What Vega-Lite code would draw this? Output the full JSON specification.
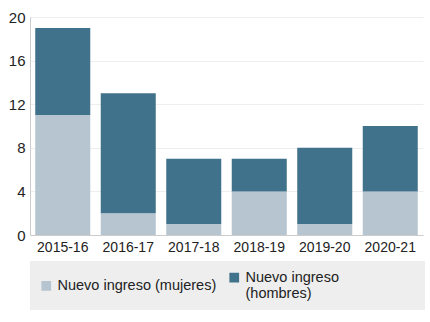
{
  "$schema": "https://vega.github.io/schema/vega-lite/v6.json",
  "autosize": {"type": "none"},
  "width": 393,
  "height": 218,
  "padding": {"left": 30, "top": 17, "right": 7, "bottom": 87},
  "background": "white",
  "data": {"values": [
    {"curso": "2015-16", "serie": "Nuevo ingreso (mujeres)", "orden": 1, "valor": 11},
    {"curso": "2015-16", "serie": "Nuevo ingreso (hombres)", "orden": 2, "valor": 8},
    {"curso": "2016-17", "serie": "Nuevo ingreso (mujeres)", "orden": 1, "valor": 2},
    {"curso": "2016-17", "serie": "Nuevo ingreso (hombres)", "orden": 2, "valor": 11},
    {"curso": "2017-18", "serie": "Nuevo ingreso (mujeres)", "orden": 1, "valor": 1},
    {"curso": "2017-18", "serie": "Nuevo ingreso (hombres)", "orden": 2, "valor": 6},
    {"curso": "2018-19", "serie": "Nuevo ingreso (mujeres)", "orden": 1, "valor": 4},
    {"curso": "2018-19", "serie": "Nuevo ingreso (hombres)", "orden": 2, "valor": 3},
    {"curso": "2019-20", "serie": "Nuevo ingreso (mujeres)", "orden": 1, "valor": 1},
    {"curso": "2019-20", "serie": "Nuevo ingreso (hombres)", "orden": 2, "valor": 7},
    {"curso": "2020-21", "serie": "Nuevo ingreso (mujeres)", "orden": 1, "valor": 4},
    {"curso": "2020-21", "serie": "Nuevo ingreso (hombres)", "orden": 2, "valor": 6}
  ]},
  "mark": {"type": "bar"},
  "encoding": {
    "x": {
      "field": "curso", "type": "nominal",
      "scale": {"paddingInner": 0.16, "paddingOuter": 0.08},
      "axis": {"title": null, "labelAngle": 0, "ticks": false, "labelPadding": 5, "domainColor": "#cccccc", "labelFontSize": 14, "labelColor": "#222222", "labelFont": "Liberation Sans"}
    },
    "y": {
      "field": "valor", "type": "quantitative", "stack": "zero",
      "scale": {"domain": [0, 20]},
      "axis": {"title": null, "values": [0, 4, 8, 12, 16, 20], "ticks": false, "labelPadding": 5, "domainColor": "#cccccc", "gridColor": "#eeeeee", "labelFontSize": 15, "labelColor": "#222222", "labelFont": "Liberation Sans"}
    },
    "color": {
      "field": "serie", "type": "nominal",
      "scale": {"domain": ["Nuevo ingreso (mujeres)", "Nuevo ingreso (hombres)"], "range": ["#b6c5cf", "#41728b"]},
      "legend": {
        "title": null, "orient": "bottom", "direction": "horizontal",
        "fillColor": "#eeeeee", "padding": 9, "offset": 7,
        "symbolType": "square", "symbolSize": 95, "symbolOpacity": 1,
        "labelFontSize": 14.5, "labelFont": "Liberation Sans", "labelColor": "#222222", "labelLimit": 400,
        "labelExpr": "datum.label == 'Nuevo ingreso (hombres)' ? ['Nuevo ingreso\u2800\u2800\u2800\u2800\u2800\u2800\u2800', '(hombres)'] : datum.label",
        "columnPadding": 10
      }
    },
    "order": {"field": "orden", "type": "quantitative"}
  },
  "config": {"view": {"stroke": null}}
}
